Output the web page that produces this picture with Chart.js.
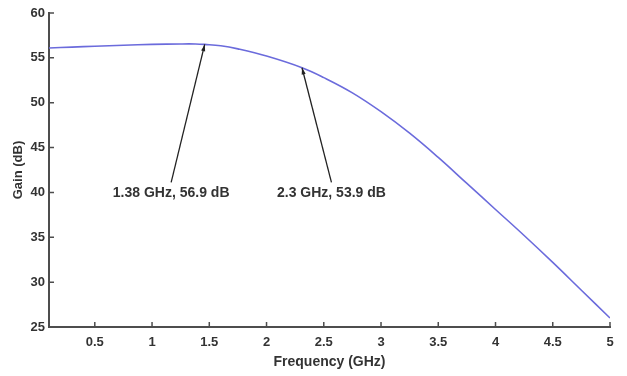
<!DOCTYPE html>
<html>
<head>
<meta charset="utf-8">
<script src="https://cdn.jsdelivr.net/npm/chart.js@4"></script>
<style>
  html, body { margin: 0; padding: 0; background: #fff; }
  #wrap { width: 627px; height: 376px; }
</style>
</head>
<body>
<div id="wrap"><canvas id="myChart" width="627" height="376"></canvas></div>
<script>
// gain curve
const freqs = [0.1, 0.3, 0.5, 0.75, 1.0, 1.25, 1.38, 1.46, 1.6, 1.75, 2.0, 2.31, 2.5, 2.75, 3.0, 3.25, 3.5, 3.75, 4.0, 4.25, 4.5, 4.75, 5.0];
const gains = [56.1, 56.2, 56.3, 56.4, 56.5, 56.55, 56.55, 56.5, 56.35, 56.0, 55.2, 53.9, 52.8, 51.1, 49.0, 46.6, 43.9, 41.0, 38.1, 35.2, 32.2, 29.1, 26.0];

const xTicks = [0.5, 1, 1.5, 2, 2.5, 3, 3.5, 4, 4.5, 5];
const yTicks = [25, 30, 35, 40, 45, 50, 55, 60];

// annotations: where the arrow points on the curve + where the label sits
const noteFreqs = [1.46, 2.31];
const noteTexts = ["1.38 GHz, 56.9 dB", "2.3 GHz, 53.9 dB"];
const noteLabelAt = [[1.167, 39.9], [2.567, 39.9]];

const textCol = '#333';
const axisCol = '#4d4d4d';
const fontFam = '"Liberation Sans", Arial, sans-serif';

// inward tick marks like matlab
const innerTicks = {
    id: 'innerTicks',
    afterDraw(chart) {
        const ctx = chart.ctx;
        const a = chart.chartArea;
        const xs = chart.scales.x, ys = chart.scales.y;
        ctx.save();
        ctx.strokeStyle = axisCol;
        ctx.lineWidth = 1.5;
        ctx.beginPath();
        xTicks.forEach(v => {
            const px = xs.getPixelForValue(v);
            ctx.moveTo(px, a.bottom);
            ctx.lineTo(px, a.bottom - 5);
        });
        yTicks.forEach(v => {
            const py = ys.getPixelForValue(v);
            ctx.moveTo(a.left, py);
            ctx.lineTo(a.left + 5, py);
        });
        ctx.stroke();
        ctx.restore();
    }
};

const arrows = {
    id: 'arrows',
    afterDatasetsDraw(chart) {
        const ctx = chart.ctx;
        const xs = chart.scales.x, ys = chart.scales.y;
        ctx.save();
        ctx.font = 'bold 14px ' + fontFam;
        ctx.strokeStyle = '#222';
        ctx.lineWidth = 1.3;
        noteFreqs.forEach((f, i) => {
            const g = gains[freqs.indexOf(f)];
            const hx = xs.getPixelForValue(f), hy = ys.getPixelForValue(g);
            const lx = xs.getPixelForValue(noteLabelAt[i][0]);
            const ly = ys.getPixelForValue(noteLabelAt[i][1]);
            const tx = lx, ty = ly - 11;
            ctx.beginPath();
            ctx.moveTo(tx, ty);
            ctx.lineTo(hx, hy);
            ctx.stroke();
            // head
            const ang = Math.atan2(hy - ty, hx - tx);
            ctx.beginPath();
            ctx.moveTo(hx, hy);
            ctx.lineTo(hx - 7 * Math.cos(ang - 0.3), hy - 7 * Math.sin(ang - 0.3));
            ctx.lineTo(hx - 7 * Math.cos(ang + 0.3), hy - 7 * Math.sin(ang + 0.3));
            ctx.closePath();
            ctx.fillStyle = '#222';
            ctx.fill();
            ctx.fillStyle = textCol;
            ctx.textAlign = 'center';
            ctx.textBaseline = 'middle';
            ctx.fillText(noteTexts[i], lx, ly);
        });
        ctx.restore();
    }
};

const config = {
    type: 'line',
    data: {
        datasets: [{
            data: freqs.map((f, i) => ({x: f, y: gains[i]})),
            borderColor: '#6b6bdc',
            borderWidth: 1.6,
            pointRadius: 0,
            fill: false,
            tension: 0.4
        }]
    },
    options: {
        responsive: false,
        animation: false,
        layout: { padding: { top: 13, right: 17, left: 0, bottom: 0 } },
        plugins: { legend: { display: false }, tooltip: { enabled: false } },
        scales: {
            x: {
                type: 'linear',
                min: 0.1, max: 5,
                afterBuildTicks: s => { s.ticks = xTicks.map(v => ({value: v})); },
                afterFit: s => { s.height = 49; },
                grid: { drawOnChartArea: false, drawTicks: false },
                border: { color: axisCol, width: 2 },
                ticks: { color: textCol, padding: 8, font: { family: fontFam, size: 13, weight: 'bold' }, maxRotation: 0, autoSkip: false,
                         callback: v => String(v) },
                title: { display: true, text: 'Frequency (GHz)', color: textCol, font: { family: fontFam, size: 14, weight: 'bold' }, padding: { top: 0, bottom: 5 } }
            },
            y: {
                min: 25, max: 60,
                afterBuildTicks: s => { s.ticks = yTicks.map(v => ({value: v})); },
                afterFit: s => { s.width = 49; },
                grid: { drawOnChartArea: false, drawTicks: false },
                border: { color: axisCol, width: 2 },
                ticks: { color: textCol, padding: 4, font: { family: fontFam, size: 13, weight: 'bold' }, callback: v => String(v) },
                title: { display: true, text: 'Gain (dB)', color: textCol, font: { family: fontFam, size: 13, weight: 'bold' }, padding: { top: 11, bottom: 0 } }
            }
        }
    },
    plugins: [innerTicks, arrows]
};

window.onload = function () {
    new Chart(document.getElementById('myChart'), config);
};
</script>
</body>
</html>
